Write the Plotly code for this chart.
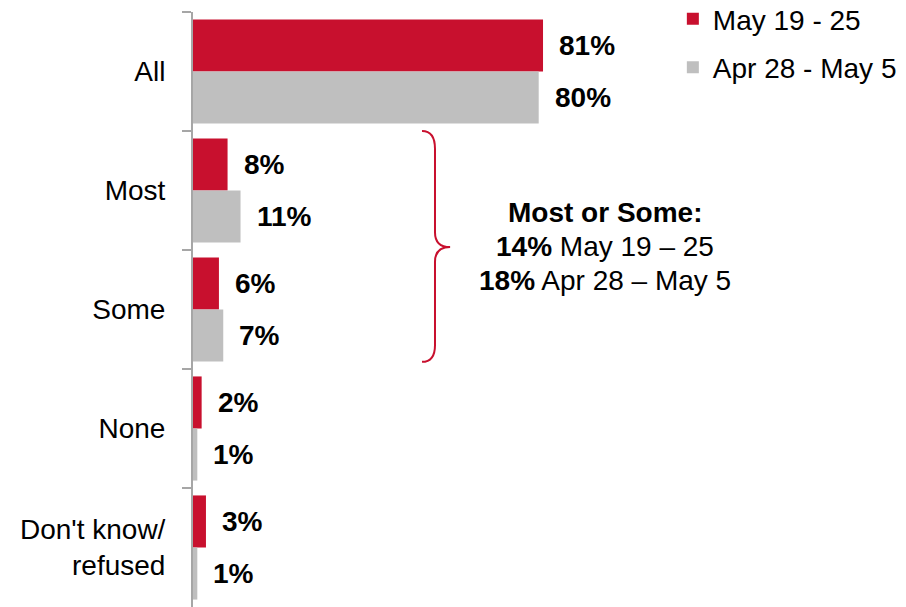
import plotly.graph_objects as go

categories = ["All", "Most", "Some", "None", "Don't know/<br>refused"]
may_19_25 = [81, 8, 6, 2, 3]
apr28_may5 = [80, 11, 7, 1, 1]
series_names = ["May 19 - 25", "Apr 28 - May 5"]

RED = "#C8102E"
GRAY = "#BFBFBF"
FONT = "Liberation Sans, Arial, sans-serif"
FS = 28

fig = go.Figure()
for name, vals, color in [(series_names[0], may_19_25, RED),
                          (series_names[1], apr28_may5, GRAY)]:
    fig.add_trace(go.Bar(
        y=categories, x=vals, orientation="h", name=name,
        marker=dict(color=color, line=dict(width=0)),
        legendgroup=name, hoverinfo="skip",
    ))

# value labels, right of each bar end
for ti, vals in enumerate([may_19_25, apr28_may5]):
    for ci, v in enumerate(vals):
        fig.add_annotation(
            x=v, y=ci + (-0.218 if ti == 0 else 0.218), xref="x", yref="y",
            text=f"<b>{v}%</b>", showarrow=False, xanchor="left", xshift=14,
            font=dict(size=FS, color="#000", family=FONT),
        )

# curly bracket around Most + Some
fig.add_shape(
    type="path", xref="x", yref="paper",
    path=("M 53.0 0.800 Q 56.0 0.800 56.0 0.770 L 56.0 0.630 "
          "Q 56.0 0.605 59.5 0.605 Q 56.0 0.605 56.0 0.580 "
          "L 56.0 0.440 Q 56.0 0.412 53.0 0.412"),
    line=dict(color=RED, width=2),
)

for y, txt in [(0.663, "<b>Most or Some:</b>"),
               (0.606, "<b>14%</b> May 19 – 25"),
               (0.549, "<b>18%</b> Apr 28 – May 5")]:
    fig.add_annotation(x=95.4, y=y, xref="x", yref="paper", text=txt,
                       showarrow=False, xanchor="center", yanchor="middle",
                       font=dict(size=FS, color="#000", family=FONT))

# page body has an 8px margin: figure is 8px smaller than the window
fig.update_layout(
    width=898, height=599,
    margin=dict(l=185, r=0, t=4, b=0, autoexpand=False),
    plot_bgcolor="white", paper_bgcolor="white",
    barmode="group", bargap=0.125, bargroupgap=0,
    font=dict(family=FONT, size=FS, color="#000"),
    showlegend=True,
    legend=dict(x=0.673, y=1.030, xanchor="left", yanchor="top",
                traceorder="grouped", tracegroupgap=9,
                font=dict(size=FS, color="#000"),
                itemwidth=30, bgcolor="rgba(0,0,0,0)"),
    xaxis=dict(range=[0, 165], visible=False, fixedrange=True),
    yaxis=dict(
        autorange="reversed", type="category",
        showline=True, linecolor="#A6A6A6", linewidth=2,
        ticks="outside", tickson="boundaries", ticklen=9,
        tickcolor="#A6A6A6", tickwidth=2,
        showgrid=False, ticklabelstandoff=20,
        tickfont=dict(size=FS, color="#000"),
    ),
)

fig.write_html("out.html")
